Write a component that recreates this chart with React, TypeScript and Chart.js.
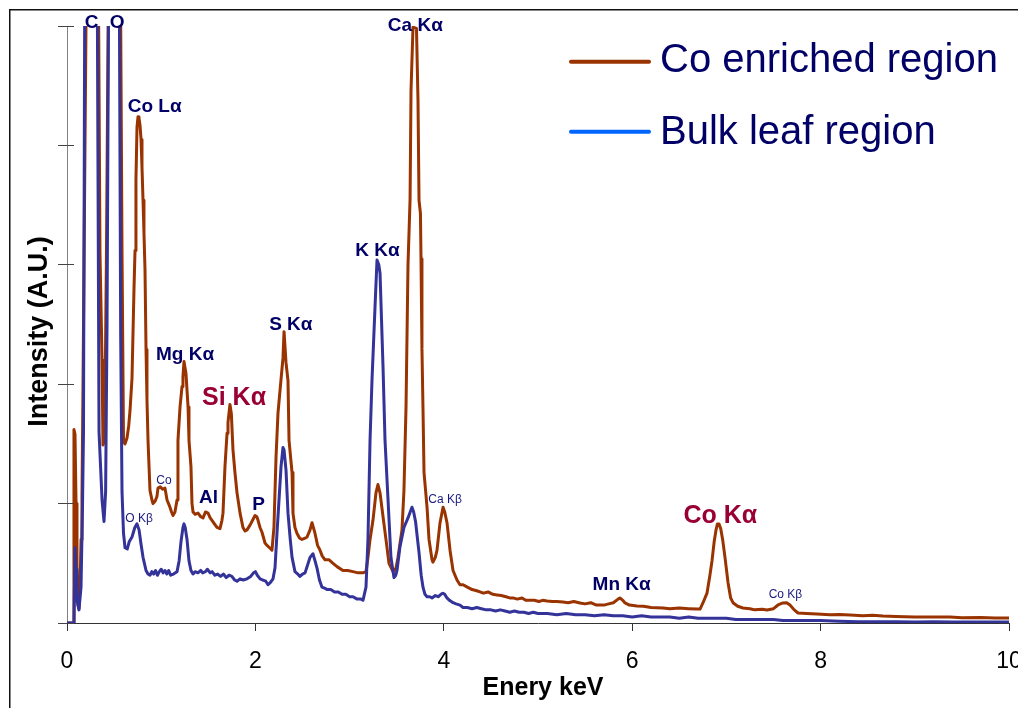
import React, { useEffect, useRef } from "react";
import { Chart, registerables } from "chart.js";

Chart.register(...registerables);

// ---------- data ----------
const seriesNames = ["Co enriched region", "Bulk leaf region"];
const axisTitles = { x: "Enery keV", y: "Intensity (A.U.)" };

const coEnergy = [
  0.0, 0.069, 0.074, 0.085, 0.096, 0.106, 0.117, 0.127, 0.138, 0.149, 0.159, 0.17, 0.191, 0.212,
  0.329, 0.35, 0.372, 0.382, 0.393, 0.403, 0.419, 0.446, 0.563, 0.584, 0.6, 0.616, 0.637, 0.655,
  0.669, 0.69, 0.711, 0.722, 0.732, 0.743, 0.754, 0.764, 0.775, 0.786, 0.796, 0.807, 0.817, 0.828,
  0.839, 0.849, 0.86, 0.881, 0.902, 0.913, 0.935, 0.955, 0.966, 0.99, 1.015, 1.04, 1.062, 1.093,
  1.11, 1.125, 1.146, 1.168, 1.178, 1.2, 1.221, 1.231, 1.242, 1.263, 1.285, 1.295, 1.316, 1.327,
  1.338, 1.36, 1.391, 1.42, 1.444, 1.47, 1.497, 1.52, 1.539, 1.565, 1.592, 1.624, 1.645, 1.656,
  1.677, 1.699, 1.709, 1.73, 1.745, 1.762, 1.783, 1.805, 1.837, 1.868, 1.89, 1.911, 1.943, 1.97,
  1.996, 2.015, 2.028, 2.049, 2.07, 2.102, 2.123, 2.15, 2.176, 2.197, 2.219, 2.24, 2.272, 2.293,
  2.304, 2.325, 2.346, 2.357, 2.389, 2.399, 2.42, 2.442, 2.47, 2.495, 2.527, 2.548, 2.58, 2.601,
  2.633, 2.66, 2.686, 2.71, 2.739, 2.78, 2.824, 2.87, 2.93, 2.98, 3.036, 3.09, 3.142, 3.174,
  3.195, 3.217, 3.248, 3.28, 3.301, 3.323, 3.355, 3.386, 3.418, 3.461, 3.493, 3.514, 3.556, 3.577,
  3.599, 3.62, 3.642, 3.652, 3.673, 3.71, 3.726, 3.737, 3.752, 3.758, 3.768, 3.779, 3.79, 3.822,
  3.843, 3.875, 3.885, 3.91, 3.928, 3.96, 3.992, 4.01, 4.034, 4.066, 4.098, 4.14, 4.172, 4.204,
  4.25, 4.3, 4.35, 4.384, 4.42, 4.47, 4.52, 4.565, 4.61, 4.66, 4.7, 4.735, 4.78, 4.83, 4.87,
  4.915, 4.96, 5.01, 5.05, 5.096, 5.15, 5.2, 5.265, 5.32, 5.38, 5.446, 5.5, 5.56, 5.62, 5.7,
  5.75, 5.8, 5.85, 5.87, 5.9, 5.924, 5.97, 6.051, 6.12, 6.2, 6.327, 6.4, 6.5, 6.6, 6.688, 6.72,
  6.752, 6.794, 6.825, 6.847, 6.87, 6.89, 6.905, 6.922, 6.94, 6.96, 6.985, 7.017, 7.045, 7.07,
  7.12, 7.176, 7.25, 7.3, 7.38, 7.431, 7.5, 7.548, 7.6, 7.64, 7.675, 7.72, 7.76, 7.85, 7.962,
  8.1, 8.2, 8.312, 8.45, 8.55, 8.662, 8.8, 9.0, 9.2, 9.374, 9.5, 9.7, 9.85, 10.0,
];
const coIntensity = [
  0.0, 0.0, 1.62, 1.58, 1.0, 0.45, 0.15, 0.12, 0.3, 0.7, 1.05, 2.0, 4.0, 6.0,
  6.0, 3.1, 2.2, 1.49, 1.52, 1.8, 3.1, 6.0, 6.0, 3.1, 1.52, 1.5, 1.55, 1.65,
  1.78, 2.05, 2.79, 3.12, 3.71, 4.15, 4.24, 4.23, 4.17, 4.05, 3.82, 3.54, 3.27, 2.96,
  2.29, 1.87, 1.53, 1.11, 1.03, 1.0, 1.02, 1.06, 1.13, 1.14, 1.12, 1.13, 1.03, 0.97,
  0.93, 0.9, 0.93, 1.03, 1.53, 1.81, 1.98, 2.06, 2.19, 2.09, 1.81, 1.53, 1.31, 1.0,
  0.93, 0.91, 0.92, 0.89, 0.88, 0.93, 0.92, 0.88, 0.86, 0.83, 0.8, 0.79, 0.86, 0.92,
  1.31, 1.59, 1.68, 1.83, 1.75, 1.45, 1.26, 1.09, 0.92, 0.8, 0.77, 0.78, 0.82, 0.86,
  0.9, 0.89, 0.86, 0.8, 0.76, 0.67, 0.65, 0.63, 0.61, 0.8, 1.39, 1.76, 2.04, 2.22,
  2.44, 2.18, 2.03, 1.53, 1.26, 0.92, 0.8, 0.75, 0.71, 0.7, 0.71, 0.72, 0.78, 0.84,
  0.75, 0.65, 0.61, 0.56, 0.53, 0.53, 0.5, 0.47, 0.44, 0.44, 0.43, 0.42, 0.42, 0.43,
  0.55, 0.7, 0.86, 1.09, 1.16, 1.09, 0.89, 0.7, 0.5, 0.43, 0.46, 0.55, 0.78, 1.11,
  1.81, 3.0, 3.55, 4.46, 4.99, 4.98, 4.38, 3.54, 3.43, 3.05, 2.3, 1.8, 1.26, 0.97,
  0.7, 0.53, 0.51, 0.55, 0.61, 0.84, 0.97, 0.93, 0.84, 0.61, 0.44, 0.36, 0.32, 0.32,
  0.3, 0.28, 0.27, 0.26, 0.25, 0.26, 0.24, 0.235, 0.23, 0.22, 0.21, 0.21, 0.2, 0.21, 0.19,
  0.19, 0.19, 0.18, 0.19, 0.184, 0.18, 0.18, 0.176, 0.17, 0.18, 0.168, 0.16, 0.17, 0.15, 0.15,
  0.16, 0.17, 0.2, 0.21, 0.19, 0.168, 0.15, 0.142, 0.14, 0.13, 0.126, 0.12, 0.125, 0.12, 0.117, 0.117,
  0.17, 0.25, 0.4, 0.52, 0.68, 0.78, 0.83, 0.83, 0.79, 0.7, 0.55, 0.34, 0.21, 0.17,
  0.14, 0.126, 0.12, 0.11, 0.115, 0.109, 0.12, 0.151, 0.168, 0.17, 0.151, 0.11, 0.084, 0.08, 0.075,
  0.07, 0.072, 0.067, 0.06, 0.065, 0.059, 0.055, 0.05, 0.05, 0.05, 0.045, 0.046, 0.042, 0.042,
];

const bulkEnergy = [
  0.0, 0.074, 0.085, 0.096, 0.106, 0.127, 0.149, 0.165, 0.175, 0.191, 0.318, 0.34, 0.372, 0.393,
  0.41, 0.425, 0.446, 0.552, 0.57, 0.584, 0.6, 0.616, 0.64, 0.66, 0.69, 0.72, 0.743, 0.765,
  0.786, 0.807, 0.839, 0.86, 0.881, 0.9, 0.92, 0.94, 0.96, 0.98, 1.0, 1.02, 1.04, 1.06, 1.08,
  1.1, 1.13, 1.168, 1.19, 1.21, 1.231, 1.242, 1.255, 1.274, 1.295, 1.316, 1.338, 1.36, 1.39,
  1.42, 1.44, 1.47, 1.49, 1.52, 1.54, 1.57, 1.6, 1.63, 1.66, 1.69, 1.72, 1.75, 1.78, 1.805,
  1.837, 1.87, 1.911, 1.95, 1.98, 2.0, 2.02, 2.05, 2.08, 2.11, 2.134, 2.16, 2.187, 2.208,
  2.229, 2.25, 2.272, 2.293, 2.304, 2.325, 2.346, 2.37, 2.389, 2.42, 2.45, 2.473, 2.5, 2.527,
  2.56, 2.58, 2.611, 2.633, 2.654, 2.68, 2.707, 2.74, 2.76, 2.8, 2.84, 2.88, 2.92, 2.96, 3.0,
  3.036, 3.08, 3.12, 3.142, 3.174, 3.195, 3.217, 3.238, 3.27, 3.291, 3.31, 3.323, 3.355, 3.376,
  3.408, 3.439, 3.471, 3.49, 3.503, 3.535, 3.577, 3.62, 3.662, 3.68, 3.7, 3.737, 3.76, 3.779,
  3.8, 3.822, 3.85, 3.875, 3.91, 3.94, 3.97, 3.99, 4.01, 4.034, 4.06, 4.098, 4.13, 4.172, 4.204,
  4.25, 4.3, 4.35, 4.4, 4.45, 4.5, 4.55, 4.6, 4.65, 4.7, 4.75, 4.8, 4.85, 4.9, 4.95, 5.0, 5.1,
  5.2, 5.3, 5.4, 5.5, 5.6, 5.7, 5.8, 5.9, 6.0, 6.1, 6.2, 6.3, 6.4, 6.5, 6.6, 6.7, 6.8, 6.9,
  7.0, 7.1, 7.2, 7.3, 7.4, 7.5, 7.6, 7.7, 7.8, 7.9, 8.0, 8.2, 8.4, 8.6, 8.8, 9.0, 9.2, 9.4,
  9.6, 9.8, 10.0,
];
const bulkIntensity = [
  0.0, 0.0, 0.63, 0.45, 0.19, 0.11, 0.3, 1.0, 1.6, 6.0, 6.0, 1.6, 1.03, 0.85,
  1.1, 2.5, 6.0, 6.0, 2.4, 1.1, 0.75, 0.63, 0.62, 0.68, 0.72, 0.8, 0.83, 0.78,
  0.66, 0.55, 0.44, 0.41, 0.4, 0.43, 0.41, 0.44, 0.4, 0.43, 0.45, 0.42, 0.44, 0.41, 0.44,
  0.4, 0.41, 0.43, 0.52, 0.68, 0.8, 0.83, 0.8, 0.7, 0.52, 0.44, 0.41, 0.43, 0.42,
  0.44, 0.42, 0.43, 0.45, 0.42, 0.43, 0.4, 0.41, 0.39, 0.41, 0.38, 0.4, 0.39, 0.36, 0.35,
  0.37, 0.36, 0.37, 0.39, 0.42, 0.43, 0.4, 0.37, 0.36, 0.35, 0.32, 0.34, 0.37, 0.46,
  0.75, 1.02, 1.31, 1.47, 1.45, 1.28, 0.92, 0.7, 0.55, 0.43, 0.41, 0.39, 0.41, 0.42,
  0.5, 0.55, 0.58, 0.52, 0.46, 0.36, 0.3, 0.29, 0.28, 0.28, 0.26, 0.26, 0.24, 0.24, 0.22,
  0.22, 0.2, 0.2, 0.19, 0.3, 0.7, 1.53, 2.04, 2.65, 3.04, 3.0, 2.93, 2.14, 1.53,
  1.03, 0.55, 0.38, 0.4, 0.44, 0.64, 0.8, 0.88, 0.97, 0.93, 0.85, 0.59, 0.4, 0.3,
  0.24, 0.22, 0.22, 0.21, 0.23, 0.22, 0.24, 0.25, 0.24, 0.21, 0.19, 0.17, 0.16, 0.15, 0.13,
  0.13, 0.12, 0.13, 0.12, 0.11, 0.11, 0.1, 0.11, 0.1, 0.09, 0.1, 0.09, 0.09, 0.08, 0.09, 0.08, 0.08,
  0.07, 0.08, 0.07, 0.07, 0.06, 0.07, 0.06, 0.06, 0.05, 0.06, 0.05, 0.05, 0.05, 0.04, 0.05, 0.04, 0.04, 0.04,
  0.04, 0.03, 0.03, 0.03, 0.03, 0.03, 0.02, 0.02, 0.02, 0.02, 0.02, 0.015, 0.01, 0.01, 0.01, 0.008, 0.01, 0.008,
  0.008, 0.008, 0.008,
];

// peak annotations: energy (keV) and baseline level (A.U.)
const peakLabels = ["C", "O", "Co Lα", "O Kβ", "Co", "Mg Kα", "Al", "Si Kα", "P", "S Kα", "K Kα", "Ca Kα", "Ca Kβ", "Mn Kα", "Co Kα", "Co Kβ"];
const peakEnergy = [0.262, 0.531, 0.931, 0.766, 1.03, 1.253, 1.502, 1.773, 2.035, 2.376, 3.296, 3.698, 4.013, 5.888, 6.935, 7.627];
const peakLevel = [4.983, 4.983, 4.28, 0.85, 1.164, 2.199, 1.005, 1.826, 0.946, 2.454, 3.074, 4.954, 1.003, 0.276, 0.8375, 0.209];
const peakKind = ["major", "major", "major", "minor", "minor", "major", "major", "accent", "major", "major", "major", "major", "minor", "major", "accent", "minor"];

const xMin = 0;
const xMax = 10;
const xStep = 2;
const yMin = 0;
const yMax = 5;
const yStep = 1;

// ---------- styles ----------
const FONT = '"Liberation Sans", Arial, Helvetica, sans-serif';
const lineColors = ["#993300", "#333399"];
const legendColors = ["#993300", "#0066ff"];
const labelStyles: Record<string, { font: string; color: string }> = {
  major: { font: `bold 19px ${FONT}`, color: "#000066" },
  accent: { font: `bold 25px ${FONT}`, color: "#990033" },
  minor: { font: `12px ${FONT}`, color: "#1a1a80" },
};

const toPoints = (xs: number[], ys: number[]) => xs.map((x, i) => ({ x, y: ys[i] }));

export default function App() {
  const canvasRef = useRef<HTMLCanvasElement | null>(null);

  useEffect(() => {
    const canvas = canvasRef.current;
    if (!canvas) return;

    const overlay = {
      id: "overlay",
      beforeDraw(chart: any) {
        const ctx = chart.ctx;
        ctx.save();
        ctx.fillStyle = "#ffffff";
        ctx.fillRect(0, 0, chart.width, chart.height);
        ctx.strokeStyle = "#111111";
        ctx.lineWidth = 1.5;
        ctx.strokeRect(9.75, 9.75, chart.width + 100, chart.height + 100);
        ctx.restore();
      },
      afterDraw(chart: any) {
        const { ctx, chartArea } = chart;
        const xs = chart.scales.x;
        const ys = chart.scales.y;
        ctx.save();
        // inner half of the y tick marks
        ctx.strokeStyle = "#444444";
        ctx.lineWidth = 1;
        ys.ticks.forEach((t: any) => {
          const py = Math.round(ys.getPixelForValue(t.value) - 0.5) + 0.5;
          ctx.beginPath();
          ctx.moveTo(chartArea.left, py);
          ctx.lineTo(chartArea.left + 7, py);
          ctx.stroke();
        });
        // axis titles
        ctx.fillStyle = "#000000";
        ctx.textBaseline = "alphabetic";
        ctx.textAlign = "center";
        ctx.font = `bold 25px ${FONT}`;
        ctx.fillText(axisTitles.x, (chartArea.left + chartArea.right) / 2 + 5, 695);
        ctx.save();
        ctx.translate(47, (chartArea.top + chartArea.bottom) / 2 + 7);
        ctx.rotate(-Math.PI / 2);
        ctx.font = `bold 27px ${FONT}`;
        ctx.fillText(axisTitles.y, 0, 0);
        ctx.restore();
        // peak labels
        ctx.textAlign = "center";
        ctx.textBaseline = "alphabetic";
        peakLabels.forEach((txt, i) => {
          const st = labelStyles[peakKind[i]];
          ctx.font = st.font;
          ctx.fillStyle = st.color;
          ctx.fillText(txt, xs.getPixelForValue(peakEnergy[i]), ys.getPixelForValue(peakLevel[i]));
        });
        // legend
        const rows = [
          { lineY: 61.7, baseY: 71.7 },
          { lineY: 131.7, baseY: 144 },
        ];
        ctx.textAlign = "left";
        ctx.font = `40px ${FONT}`;
        chart.data.datasets.forEach((ds: any, i: number) => {
          const r = rows[i];
          ctx.strokeStyle = legendColors[i];
          ctx.lineWidth = 4;
          ctx.lineCap = "round";
          ctx.beginPath();
          ctx.moveTo(571, r.lineY);
          ctx.lineTo(649, r.lineY);
          ctx.stroke();
          ctx.fillStyle = "#000066";
          ctx.fillText(ds.label, 660, r.baseY);
        });
        ctx.restore();
      },
    };

    const chart = new Chart(canvas, {
      type: "line",
      data: {
        datasets: [
          {
            label: seriesNames[0],
            data: toPoints(coEnergy, coIntensity),
            borderColor: lineColors[0],
            borderWidth: 3,
            pointRadius: 0,
            order: 1,
          },
          {
            label: seriesNames[1],
            data: toPoints(bulkEnergy, bulkIntensity),
            borderColor: lineColors[1],
            borderWidth: 3,
            pointRadius: 0,
            order: 0,
          },
        ],
      },
      options: {
        responsive: false,
        animation: false,
        devicePixelRatio: 1,
        layout: { padding: { left: 0, top: 26, right: 9, bottom: 0 } },
        elements: {
          line: { tension: 0, borderJoinStyle: "round", borderCapStyle: "round" },
        },
        plugins: {
          legend: { display: false },
          tooltip: { enabled: false },
        },
        scales: {
          x: {
            type: "linear",
            min: xMin,
            max: xMax,
            ticks: {
              stepSize: xStep,
              color: "#000000",
              font: { size: 23, family: FONT },
              padding: 17,
              maxRotation: 0,
              autoSkip: false,
            },
            grid: { drawOnChartArea: false, drawTicks: true, tickLength: 8, color: "#333333" },
            border: { color: "#333333", width: 1 },
            title: { display: false },
            afterFit: (s: any) => {
              s.height = 85;
              s.paddingLeft = 0;
              s.paddingRight = 0;
            },
          },
          y: {
            type: "linear",
            min: yMin,
            max: yMax,
            ticks: { stepSize: yStep, display: false },
            grid: { drawOnChartArea: false, drawTicks: true, tickLength: 9, color: "#444444" },
            border: { color: "#808080", width: 1 },
            title: { display: false },
            afterFit: (s: any) => {
              s.width = 67;
              s.paddingTop = 0;
              s.paddingBottom = 0;
            },
          },
        },
      } as any,
      plugins: [overlay],
    });

    return () => chart.destroy();
  }, []);

  return (
    <div style={{ position: "fixed", left: 0, top: 0, width: 1018, height: 708, overflow: "hidden", background: "#fff" }}>
      <canvas ref={canvasRef} width={1018} height={708} style={{ display: "block" }} />
    </div>
  );
}
